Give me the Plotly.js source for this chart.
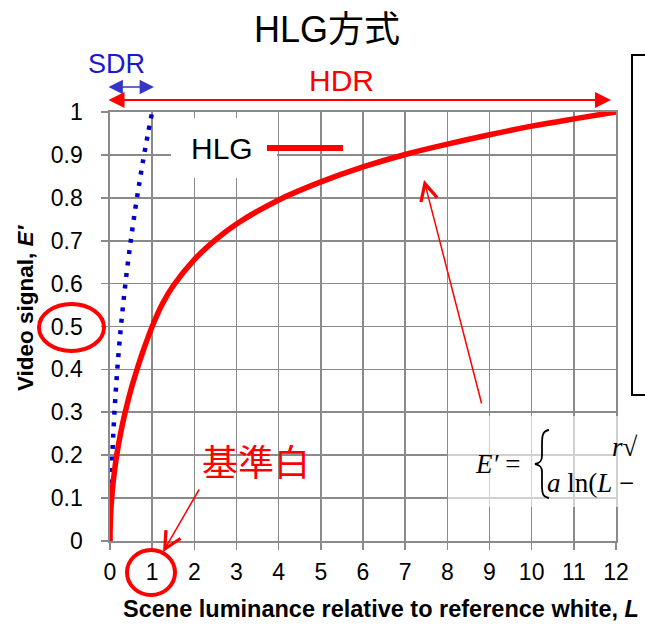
<!DOCTYPE html>
<html>
<head>
<meta charset="utf-8">
<script src="https://cdn.plot.ly/plotly-3.0.1.min.js"></script>
<style>html,body{margin:0;padding:0;background:#fff;}#chart{width:645px;height:627px;}</style>
</head>
<body>
<div id="chart"></div>
<script>
// ---- data ----
const hlgL = [0, 0.002, 0.005, 0.01, 0.02, 0.04, 0.07, 0.1, 0.15, 0.2, 0.3, 0.4, 0.5, 0.6, 0.7, 0.8, 0.9, 1, 1.25, 1.5, 2, 2.5, 3, 4, 5, 6, 7, 8, 9, 10, 11, 12];
const hlgE = [0, 0.022, 0.035, 0.05, 0.071, 0.1, 0.132, 0.158, 0.194, 0.224, 0.274, 0.316, 0.354, 0.387, 0.418, 0.447, 0.474, 0.5, 0.554, 0.595, 0.656, 0.702, 0.739, 0.795, 0.837, 0.872, 0.901, 0.925, 0.947, 0.967, 0.984, 1.0];
const sdrL = [0, 0.018, 0.05, 0.1, 0.2, 0.3, 0.4, 0.5, 0.6, 0.7, 0.8, 0.9, 1.0];
const sdrE = [0, 0.081, 0.187, 0.291, 0.434, 0.540, 0.629, 0.705, 0.774, 0.837, 0.895, 0.949, 1.0];
const xTickVals = [0,1,2,3,4,5,6,7,8,9,10,11,12];
const xTickText = ['0','1','2','3','4','5','6','7','8','9','10','11','12'];
const yTickVals = [0,0.1,0.2,0.3,0.4,0.5,0.6,0.7,0.8,0.9,1];
const yTickText = ['0','0.1','0.2','0.3','0.4','0.5','0.6','0.7','0.8','0.9','1'];

// ---- geometry helpers (pixel -> paper) ----
const W = 645, H = 627, ML = 110, MR = 29, MT = 112, MB = 86;
const PW = W - ML - MR, PH = H - MT - MB;
const px = x => (x - ML) / PW;
const py = y => (H - MB - y) / PH;

const SANS = 'Liberation Sans, Arial, Noto Sans CJK JP, sans-serif';
const SERIF = 'Liberation Serif, DejaVu Serif, serif';
const RED = '#ff0000';
const GRID = '#8a8a8a';

const traces = [
  {x: sdrL, y: sdrE, type: 'scatter', mode: 'lines', line: {color: '#0000cc', width: 4.5, dash: '4px,7.5px', shape: 'spline'}, showlegend: false, hoverinfo: 'skip'},
  {x: hlgL, y: hlgE, type: 'scatter', mode: 'lines', line: {color: RED, width: 5.5, shape: 'spline'}, showlegend: false, hoverinfo: 'skip', name: 'HLG'}
];

// brace path in pixel coords converted to paper coords
function P(x, y) { return px(x).toFixed(5) + ',' + py(y).toFixed(5); }
const bracePath = 'M' + P(549, 430) + ' C' + P(542, 431) + ' ' + P(542, 437) + ' ' + P(542, 445) +
  ' L' + P(542, 456) + ' C' + P(542, 461) + ' ' + P(540, 463) + ' ' + P(535, 464) +
  ' C' + P(540, 465) + ' ' + P(542, 467) + ' ' + P(542, 472) +
  ' L' + P(542, 484) + ' C' + P(542, 492) + ' ' + P(542, 497) + ' ' + P(549, 498);

const shapes = [
  // legend white box
  {type: 'rect', xref: 'paper', yref: 'paper', x0: px(171), x1: px(277), y0: py(178), y1: py(118), fillcolor: '#ffffff', line: {width: 0}, layer: 'above'},
  {type: 'line', xref: 'paper', yref: 'paper', x0: px(267), x1: px(343), y0: py(148), y1: py(148), line: {color: RED, width: 6}, layer: 'above'},
  // translucent formula backdrop
  {type: 'rect', xref: 'paper', yref: 'paper', x0: px(448), x1: px(660), y0: py(507), y1: py(416), fillcolor: 'rgba(255,255,255,0.6)', line: {width: 0}, layer: 'above'},
  // formula brace
  {type: 'path', xref: 'paper', yref: 'paper', path: bracePath, line: {color: '#000000', width: 1.8}, layer: 'above'},
  // right framed box (cut off)
  {type: 'rect', xref: 'paper', yref: 'paper', x0: px(632), x1: px(700), y0: py(395), y1: py(55), fillcolor: 'rgba(0,0,0,0)', line: {color: '#000000', width: 2}, layer: 'above'},
  // red circles
  {type: 'circle', xref: 'paper', yref: 'paper', x0: px(39), x1: px(104), y0: py(351), y1: py(304), line: {color: RED, width: 4}, layer: 'above'},
  {type: 'circle', xref: 'paper', yref: 'paper', x0: px(127), x1: px(175), y0: py(595), y1: py(550), line: {color: RED, width: 4}, layer: 'above'}
];

function arrow(hx, hy, tx, ty, opts) {
  return Object.assign({xref: 'paper', yref: 'paper', x: px(hx), y: py(hy), ax: tx - hx, ay: ty - hy, axref: 'pixel', ayref: 'pixel', text: '', showarrow: true, standoff: 0, startstandoff: 0}, opts);
}
function label(x, y, text, size, color, extra) {
  return Object.assign({xref: 'paper', yref: 'paper', x: px(x), y: py(y), text: text, showarrow: false, xanchor: 'center', yanchor: 'middle', font: {family: SANS, size: size, color: color}}, extra || {});
}

const annotations = [
  label(327, 29, 'HLG方式', 36, '#000000'),
  label(116, 64, 'SDR', 27, '#1a1acc'),
  label(341, 81, 'HDR', 30, RED),
  label(222, 148, 'HLG', 30, '#000000'),
  label(256, 463, '基準白', 36, RED),
  label(25, 308, '<b>Video signal, <i>E′</i></b>', 22.5, '#000000', {textangle: -90}),
  label(381, 609, '<b>Scene luminance relative to reference white, <i>L</i></b>', 23.5, '#000000'),
  // formula (partially cut off at the right edge, as in the reference)
  label(473, 464, '<i>E′</i> =', 27, '#000000', {xanchor: 'left', font: {family: SERIF, size: 27, color: '#000'}}),
  label(610, 447, '<i>r</i>√', 27, '#000000', {xanchor: 'left', font: {family: SERIF, size: 27, color: '#000'}}),
  label(545, 483, '<i>a</i> ln(<i>L</i> −', 27, '#000000', {xanchor: 'left', font: {family: SERIF, size: 27, color: '#000'}}),
  // arrows
  arrow(154, 87, 107, 87, {arrowside: 'end+start', arrowhead: 2, startarrowhead: 2, arrowsize: 1.8, startarrowsize: 1.8, arrowwidth: 1.6, arrowcolor: '#3535c8'}),
  arrow(611, 100, 107, 100, {arrowside: 'end+start', arrowhead: 2, startarrowhead: 2, arrowsize: 1.6, startarrowsize: 1.6, arrowwidth: 2, arrowcolor: RED}),
  arrow(424, 180, 482, 405, {arrowhead: 5, arrowsize: 2.2, arrowwidth: 1.5, arrowcolor: RED}),
  arrow(163, 552, 200, 488, {arrowhead: 5, arrowsize: 2.2, arrowwidth: 1.5, arrowcolor: RED})
];

const axisCommon = {
  showgrid: true, gridcolor: GRID, gridwidth: 1.6,
  zeroline: false, showline: true, linecolor: GRID, linewidth: 1.6, mirror: true,
  ticks: 'outside', ticklen: 7, tickcolor: GRID, tickwidth: 1.6,
  fixedrange: true
};

const layout = {
  width: W, height: H,
  margin: {l: ML, r: MR, t: MT, b: MB, pad: 0},
  paper_bgcolor: '#ffffff', plot_bgcolor: '#ffffff',
  showlegend: false,
  xaxis: Object.assign({}, axisCommon, {range: [0, 12], tickvals: xTickVals, ticktext: xTickText, tickfont: {family: SANS, size: 23, color: '#000'}, ticklabelstandoff: 3}),
  yaxis: Object.assign({}, axisCommon, {range: [0, 1], tickvals: yTickVals, ticktext: yTickText, tickfont: {family: SANS, size: 23, color: '#000'}, ticklabelstandoff: 14}),
  shapes: shapes,
  annotations: annotations
};

Plotly.newPlot('chart', traces, layout, {displayModeBar: false, staticPlot: true});
</script>
</body>
</html>
